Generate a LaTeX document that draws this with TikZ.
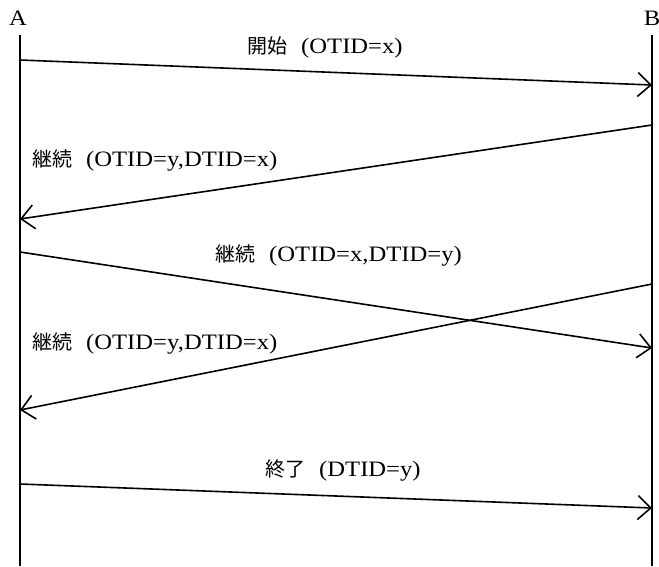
\documentclass[tikz,border=0pt]{standalone}
\usepackage{fontspec}
\setmainfont{Liberation Serif}[FakeStretch=1.12]
\newfontfamily\cjk{Noto Sans CJK JP}
\usetikzlibrary{arrows.meta}
\tikzset{
  life/.style={line width=1.6pt},
  msg/.style={line width=1.6pt,-{Straight Barb[length=13pt,width=24pt,line width=1.6pt]}},
  lbl/.style={inner sep=0pt,font=\fontsize{22}{24}\selectfont}
}
\newcommand{\jp}[1]{{\cjk\fontsize{20}{22}\selectfont #1}\hspace{14pt}}
\begin{document}
\begin{tikzpicture}[x=1pt,y=-1pt]
\useasboundingbox (0,0) rectangle (659,566);
\node[lbl] (A) at (18,18) {A};
\node[lbl] (B) at (652,18) {B};
\coordinate (At) at (20,35);
\coordinate (Ab) at (20,566);
\coordinate (Bt) at (652,35);
\coordinate (Bb) at (652,566);
\draw[life] (At) -- (Ab);
\draw[life] (Bt) -- (Bb);
% message endpoints
\coordinate (a1) at (20,60);  \coordinate (b1) at (652,85);
\coordinate (b2) at (652,125); \coordinate (a2) at (20,219);
\coordinate (a3) at (20,252); \coordinate (b3) at (652,348);
\coordinate (b4) at (652,284); \coordinate (a4) at (20,410);
\coordinate (a5) at (20,484); \coordinate (b5) at (652,508);
\draw[msg] (a1) -- (b1);
\draw[msg] (b2) -- (a2);
\draw[msg] (a3) -- (b3);
\draw[msg] (b4) -- (a4);
\draw[msg] (a5) -- (b5);
\node[lbl,anchor=west] (l1) at (247,47) {\jp{開始}(OTID=x)};
\node[lbl,anchor=west] (l2) at (32,160) {\jp{継続}(OTID=y,DTID=x)};
\node[lbl,anchor=west] (l3) at (215,255) {\jp{継続}(OTID=x,DTID=y)};
\node[lbl,anchor=west] (l4) at (32,343) {\jp{継続}(OTID=y,DTID=x)};
\node[lbl,anchor=west] (l5) at (265,470) {\jp{終了}(DTID=y)};
\end{tikzpicture}
\end{document}
